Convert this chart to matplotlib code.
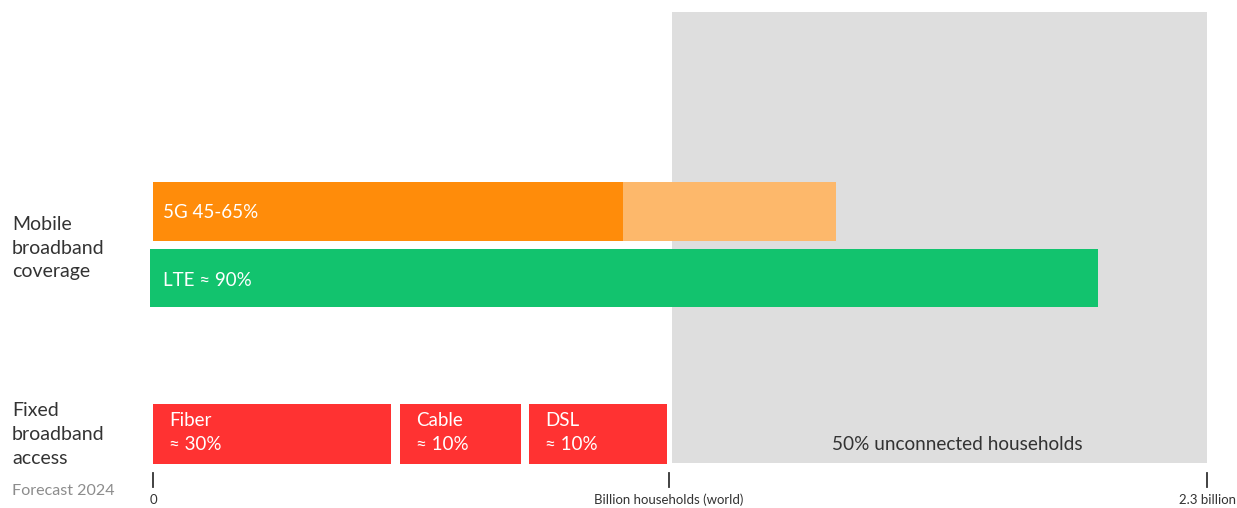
import matplotlib.pyplot as plt
from matplotlib.patches import Rectangle

plt.rcParams['font.family'] = ['Lato', 'DejaVu Sans']

# values in billion households (world)
total = 2.3
g5_low, g5_high = 1.026, 1.490
lte = 2.068
fixed_names = ['Fiber', 'Cable', 'DSL']
fixed_shares = ['≈ 30%', '≈ 10%', '≈ 10%']
fixed_start = [0.0, 0.539, 0.820]
fixed_end = [0.519, 0.803, 1.122]
unconnected_start = 1.132
tick_vals = [0, 1.126, 2.3]
tick_labels = ['0', 'Billion households (world)', '2.3 billion']

dark = '#333333'
fig = plt.figure(figsize=(12.37, 5.08), dpi=100)
ax = fig.add_axes([0, 0, 1, 1])
px = 458.3  # pixels per billion
ax.set_xlim(-153 / px, (1237 - 153) / px)
ax.set_ylim(508, 0)
ax.axis('off')

# unconnected households area
ax.add_patch(Rectangle((unconnected_start, 12), total - unconnected_start, 451,
                       facecolor='#dedede', edgecolor='none', zorder=0))
ax.text((unconnected_start + total) / 2 + 18 / px, 445, '50% unconnected households',
        ha='center', va='center', fontsize=13.7, color=dark)

# mobile
ax.barh(211.5, g5_high, height=59, color='#fdb86b', zorder=2)
ax.barh(211.5, g5_low, height=59, color='#ff8c0a', zorder=3)
ax.barh(278, lte, height=58, left=-0.006, color='#12c36e', zorder=2)
ax.text(10 / px, 213, '5G 45-65%', color='white', fontsize=13.5, va='center', zorder=4)
ax.text(10 / px, 281, 'LTE ≈ 90%', color='white', fontsize=13.5, va='center', zorder=4)

# fixed
for name, share, s, e in zip(fixed_names, fixed_shares, fixed_start, fixed_end):
    ax.barh(434, e - s, left=s, height=60, color='#ff3232', zorder=2)
    ax.text(s + 16 / px, 421, name, color='white', fontsize=13.5, va='center', zorder=4)
    ax.text(s + 16 / px, 444, share, color='white', fontsize=13.5, va='center', zorder=4)

# left labels
x0 = -141 / px
for y, t in zip([224, 248, 272], ['Mobile', 'broadband', 'coverage']):
    ax.text(x0, y, t, fontsize=14, color=dark, va='center')
for y, t in zip([410, 434, 459], ['Fixed', 'broadband', 'access']):
    ax.text(x0, y, t, fontsize=14, color=dark, va='center')
ax.text(x0, 491, 'Forecast 2024', fontsize=11.6, color='#8c8c8c', va='center')

# axis ticks
for v, lab in zip(tick_vals, tick_labels):
    ax.plot([v, v], [473, 487], color=dark, lw=1.3)
    ax.text(v, 500, lab, ha='center', va='center', fontsize=9.5, color=dark)

fig.savefig('out.png', dpi=100)
